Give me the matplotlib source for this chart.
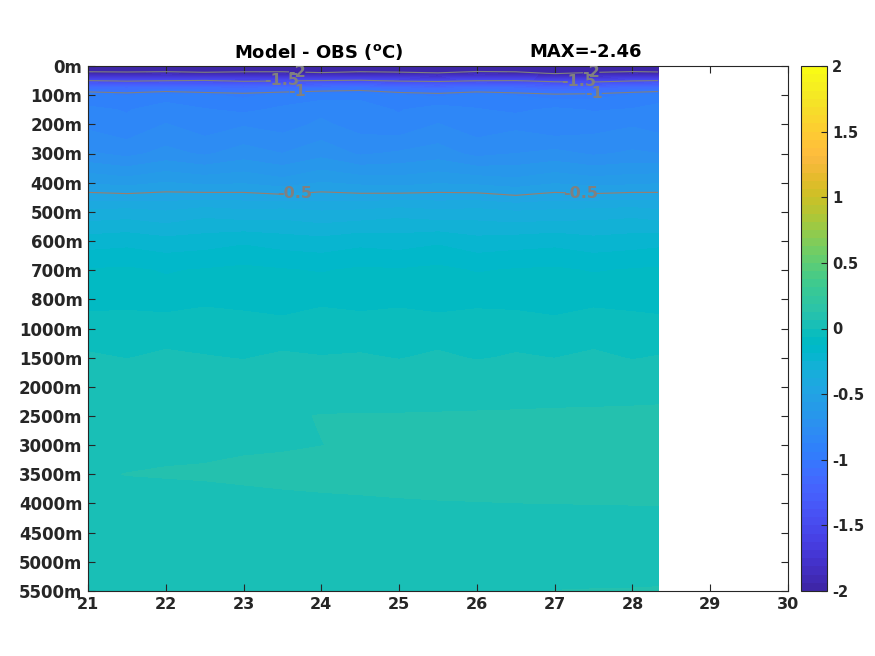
import numpy as np
import matplotlib
matplotlib.use("Agg")
import matplotlib.pyplot as plt
from matplotlib.colors import ListedColormap, BoundaryNorm, Normalize
from matplotlib.cm import ScalarMappable

# axis labels (depth axis is drawn on an index scale)
tick_depths = [0, 100, 200, 300, 400, 500, 600, 700, 800,
               1000, 1500, 2000, 2500, 3000, 3500, 4000, 4500, 5000, 5500]
tick_labels = [f"{d}m" for d in tick_depths]
x_ticks = list(range(21, 31))

# data grid
lons = [21.0, 21.5, 22.0, 22.5, 23.0, 23.5, 24.0, 24.5,
        25.0, 25.5, 26.0, 26.5, 27.0, 27.5, 28.0, 28.33]
depths = [0, 25, 50, 75, 100, 150, 200, 300, 400, 500, 600, 700, 800,
          1000, 1500, 2000, 2500, 3000, 3500, 4000, 4500, 5000, 5500]

diff = [
    [-2.30, -2.28, -2.35, -2.31, -2.27, -2.33, -2.38, -2.29, -2.32, -2.46, -2.30, -2.27, -2.34, -2.36, -2.29, -2.31],
    [-1.92, -1.94, -1.90, -1.95, -1.93, -1.91, -1.96, -1.92, -1.94, -1.97, -1.90, -1.93, -2.02, -1.95, -1.91, -1.93],
    [-1.50, -1.53, -1.51, -1.49, -1.54, -1.52, -1.50, -1.48, -1.53, -1.55, -1.51, -1.50, -1.56, -1.58, -1.52, -1.50],
    [-1.10, -1.13, -1.09, -1.12, -1.14, -1.11, -1.08, -1.06, -1.12, -1.15, -1.10, -1.13, -1.18, -1.16, -1.11, -1.09],
    [-0.92, -0.94, -0.91, -0.93, -0.95, -0.92, -0.90, -0.89, -0.93, -0.95, -0.92, -0.94, -0.97, -0.96, -0.93, -0.91],
    [-0.86, -0.88, -0.84, -0.87, -0.89, -0.86, -0.83, -0.85, -0.88, -0.84, -0.87, -0.89, -0.86, -0.88, -0.87, -0.85],
    [-0.83, -0.86, -0.81, -0.85, -0.82, -0.84, -0.80, -0.84, -0.86, -0.81, -0.85, -0.83, -0.87, -0.84, -0.82, -0.84],
    [-0.74, -0.77, -0.73, -0.76, -0.72, -0.75, -0.71, -0.76, -0.74, -0.72, -0.77, -0.75, -0.73, -0.76, -0.74, -0.75],
    [-0.57, -0.59, -0.56, -0.58, -0.57, -0.60, -0.56, -0.58, -0.59, -0.57, -0.58, -0.60, -0.57, -0.59, -0.58, -0.57],
    [-0.36, -0.35, -0.37, -0.34, -0.36, -0.35, -0.37, -0.36, -0.34, -0.36, -0.35, -0.37, -0.36, -0.35, -0.34, -0.36],
    [-0.22, -0.21, -0.23, -0.22, -0.20, -0.22, -0.23, -0.21, -0.22, -0.20, -0.23, -0.22, -0.21, -0.23, -0.22, -0.21],
    [-0.12, -0.115, -0.13, -0.12, -0.11, -0.12, -0.13, -0.115, -0.12, -0.11, -0.13, -0.12, -0.115, -0.13, -0.12, -0.115],
    [-0.09, -0.08, -0.10, -0.075, -0.09, -0.105, -0.08, -0.09, -0.075, -0.10, -0.08, -0.09, -0.105, -0.08, -0.09, -0.10],
    [-0.025, -0.034, -0.019, -0.028, -0.022, -0.031, -0.016, -0.025, -0.033, -0.020, -0.026, -0.018, -0.030, -0.021, -0.025, -0.028],
    [0.0063, -0.0013, 0.0075, 0.0031, -0.0025, 0.0088, 0.0013, 0.0050, -0.0019, 0.0069, -0.0031, 0.0038, -0.0006, 0.0081, -0.0025, 0.0025],
    [0.0344, 0.0325, 0.0356, 0.0338, 0.0350, 0.0331, 0.0344, 0.0356, 0.0338, 0.0350, 0.0344, 0.0331, 0.0350, 0.0338, 0.0344, 0.0344],
    [0.0425, 0.0438, 0.0450, 0.0469, 0.0488, 0.0563, 0.0644, 0.0647, 0.0656, 0.0667, 0.0683, 0.0704, 0.0724, 0.0746, 0.0769, 0.0798],
    [0.0450, 0.0469, 0.0488, 0.0506, 0.0525, 0.0563, 0.0619, 0.0688, 0.0738, 0.0763, 0.0788, 0.0800, 0.0813, 0.0825, 0.0838, 0.0844],
    [0.0575, 0.0633, 0.0673, 0.0695, 0.0795, 0.0813, 0.0825, 0.0844, 0.0863, 0.0875, 0.0875, 0.0888, 0.0888, 0.0894, 0.0900, 0.0906],
    [0.0406, 0.0438, 0.0313, 0.0375, 0.0325, 0.0438, 0.0500, 0.0531, 0.0566, 0.0591, 0.0606, 0.0619, 0.0626, 0.0634, 0.0641, 0.0650],
    [0.0344, 0.0338, 0.0350, 0.0344, 0.0331, 0.0344, 0.0350, 0.0338, 0.0344, 0.0350, 0.0344, 0.0338, 0.0344, 0.0350, 0.0344, 0.0344],
    [0.0325, 0.0319, 0.0331, 0.0325, 0.0313, 0.0325, 0.0331, 0.0319, 0.0325, 0.0331, 0.0338, 0.0350, 0.0375, 0.0388, 0.0400, 0.0406],
    [0.0313, 0.0319, 0.0313, 0.0306, 0.0313, 0.0319, 0.0313, 0.0325, 0.0344, 0.0406, 0.0488, 0.0563, 0.0631, 0.0644, 0.0650, 0.0663],
]

max_text = "MAX=-2.46"

# MATLAB parula(64)
PARULA = [
    [0.2422, 0.1504, 0.6603], [0.2504, 0.1650, 0.7076], [0.2578, 0.1818, 0.7511], [0.2647, 0.1978, 0.7952],
    [0.2706, 0.2147, 0.8364], [0.2751, 0.2342, 0.8710], [0.2783, 0.2559, 0.8991], [0.2803, 0.2782, 0.9221],
    [0.2813, 0.3006, 0.9414], [0.2810, 0.3228, 0.9579], [0.2795, 0.3447, 0.9717], [0.2760, 0.3667, 0.9829],
    [0.2699, 0.3892, 0.9906], [0.2602, 0.4123, 0.9952], [0.2440, 0.4358, 0.9988], [0.2206, 0.4603, 0.9973],
    [0.1963, 0.4847, 0.9892], [0.1834, 0.5074, 0.9798], [0.1786, 0.5289, 0.9682], [0.1764, 0.5499, 0.9520],
    [0.1687, 0.5703, 0.9359], [0.1540, 0.5902, 0.9218], [0.1460, 0.6091, 0.9079], [0.1380, 0.6276, 0.8973],
    [0.1248, 0.6459, 0.8883], [0.1113, 0.6635, 0.8763], [0.0952, 0.6798, 0.8598], [0.0689, 0.6948, 0.8394],
    [0.0297, 0.7082, 0.8163], [0.0036, 0.7203, 0.7917], [0.0067, 0.7312, 0.7660], [0.0433, 0.7411, 0.7394],
    [0.0964, 0.7500, 0.7120], [0.1408, 0.7584, 0.6842], [0.1717, 0.7670, 0.6554], [0.1938, 0.7758, 0.6251],
    [0.2161, 0.7843, 0.5923], [0.2470, 0.7918, 0.5567], [0.2906, 0.7973, 0.5188], [0.3406, 0.8008, 0.4789],
    [0.3909, 0.8029, 0.4354], [0.4456, 0.8024, 0.3909], [0.5044, 0.7993, 0.3480], [0.5616, 0.7942, 0.3045],
    [0.6174, 0.7876, 0.2612], [0.6720, 0.7793, 0.2227], [0.7242, 0.7698, 0.1910], [0.7738, 0.7598, 0.1646],
    [0.8203, 0.7498, 0.1535], [0.8634, 0.7406, 0.1596], [0.9035, 0.7330, 0.1774], [0.9393, 0.7288, 0.2100],
    [0.9728, 0.7298, 0.2394], [0.9956, 0.7434, 0.2371], [0.9970, 0.7659, 0.2199], [0.9952, 0.7893, 0.2028],
    [0.9892, 0.8136, 0.1885], [0.9786, 0.8386, 0.1766], [0.9676, 0.8639, 0.1643], [0.9610, 0.8890, 0.1537],
    [0.9597, 0.9135, 0.1423], [0.9628, 0.9373, 0.1265], [0.9691, 0.9606, 0.1064], [0.9769, 0.9839, 0.0805],
]
cmap = ListedColormap(PARULA, name="parula")
cmap.set_under(PARULA[0])
cmap.set_over(PARULA[-1])

TXT = (0.15, 0.15, 0.15)
GRAY = "#808080"

ypos = np.interp(depths, tick_depths, np.arange(len(tick_depths)))
Z = np.array(diff)
levels = np.linspace(-2, 2, 65)

fig = plt.figure(figsize=(8.75, 6.56), dpi=100)
ax = fig.add_axes([88 / 875, 65 / 656, 700 / 875, 525 / 656])

ax.contourf(lons, ypos, Z, levels=levels, cmap=cmap,
            norm=BoundaryNorm(levels, cmap.N), extend="both")
cl = ax.contour(lons, ypos, Z, levels=[-2, -1.5, -1, -0.5],
                colors=[GRAY, GRAY, GRAY, "#9a7e6c"], linewidths=0.8, linestyles="solid")
lab_pos = [(23.69, 0.14), (23.49, 0.55), (23.69, 0.89),
           (27.47, 0.18), (27.31, 0.58), (27.5, 0.9),
           (23.65, 4.35), (27.33, 4.35)]
texts = ax.clabel(cl, fmt=lambda v: f"{v:g}", fontsize=11.5, colors=GRAY,
                  inline=True, inline_spacing=2, manual=lab_pos)
for t in texts:
    t.set_rotation(0)
    t.set_fontweight("bold")
    t.set_color(GRAY)

ax.set_xlim(21, 30)
ax.set_ylim(len(tick_depths) - 1, 0)
ax.set_xticks(x_ticks)
ax.set_xticklabels([str(v) for v in x_ticks], fontsize=11.5, fontweight="bold", color=TXT)
ax.set_yticks(np.arange(len(tick_depths)))
ax.set_yticklabels(tick_labels, fontsize=12, fontweight="bold", color=TXT)
ax.tick_params(direction="in", length=5, width=0.8, top=True, right=True, colors=TXT, pad=4)
for sp in ax.spines.values():
    sp.set_color(TXT)
    sp.set_linewidth(0.8)

ax.text(0.329, 1.027, "Model - OBS ($^{\\mathbf{o}}$C)", transform=ax.transAxes,
        ha="center", va="center", fontsize=13, fontweight="bold")
ax.text(0.711, 1.027, max_text, transform=ax.transAxes,
        ha="center", va="center", fontsize=13, fontweight="bold")

# colorbar: the full 64-colour map
cax = fig.add_axes([801 / 875, 65 / 656, 26 / 875, 525 / 656])
cb = fig.colorbar(ScalarMappable(norm=Normalize(-2, 2), cmap=cmap), cax=cax)
cb.set_ticks(np.arange(-2, 2.01, 0.5))
cb.set_ticklabels(["-2", "-1.5", "-1", "-0.5", "0", "0.5", "1", "1.5", "2"])
cax.tick_params(direction="in", length=4, width=0.8, colors=TXT, labelsize=10.5)
for t in cax.get_yticklabels():
    t.set_fontweight("bold")
cb.outline.set_edgecolor(TXT)
cb.outline.set_linewidth(0.8)

fig.savefig("out.png", dpi=100)
